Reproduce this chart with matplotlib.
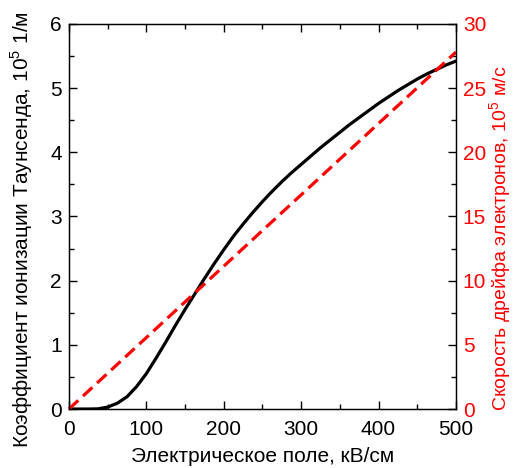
import matplotlib.pyplot as plt
from matplotlib.ticker import MultipleLocator

plt.rcParams['font.family'] = ['Liberation Sans', 'DejaVu Sans']
plt.rcParams['mathtext.fontset'] = 'custom'
plt.rcParams['mathtext.rm'] = 'Liberation Sans'
plt.rcParams['font.size'] = 15

# electric field, kV/cm
field = [0, 12.5, 25, 37.5, 50, 62.5, 75, 87.5, 100, 112.5, 125, 137.5, 150, 162.5, 175, 187.5,
         200, 212.5, 225, 237.5, 250, 262.5, 275, 287.5, 300, 312.5, 325, 337.5, 350, 362.5,
         375, 387.5, 400, 412.5, 425, 437.5, 450, 462.5, 475, 487.5, 500]
# Townsend ionization coefficient, 10^5 1/m
alpha = [0, 0, 0, 0.003, 0.03, 0.09, 0.19, 0.35, 0.55, 0.79, 1.04, 1.3, 1.55, 1.79, 2.03, 2.26,
         2.48, 2.69, 2.88, 3.06, 3.23, 3.39, 3.54, 3.68, 3.81, 3.94, 4.07, 4.19, 4.31, 4.43,
         4.54, 4.65, 4.76, 4.86, 4.96, 5.05, 5.14, 5.22, 5.29, 5.36, 5.42]
# electron drift velocity, 10^5 m/s
drift_field = [0, 500]
drift_vel = [0, 27.8]

fig = plt.figure(figsize=(5.14, 4.68), dpi=100)
ax = fig.add_axes([0.134, 0.126, 0.753, 0.823])
ax2 = ax.twinx()

ax.plot(field, alpha, color='black', lw=2.3, zorder=3)
ax2.plot(drift_field, drift_vel, color='red', lw=2.3, dashes=(4, 2), clip_on=False)

ax.set_xlim(0, 500)
ax.set_ylim(0, 6)
ax2.set_ylim(0, 30)

ax.xaxis.set_major_locator(MultipleLocator(100))
ax.xaxis.set_minor_locator(MultipleLocator(50))
ax.yaxis.set_major_locator(MultipleLocator(1))
ax.yaxis.set_minor_locator(MultipleLocator(0.5))
ax2.yaxis.set_major_locator(MultipleLocator(5))
ax2.yaxis.set_minor_locator(MultipleLocator(2.5))

ax.tick_params(which='both', direction='in', top=True, right=False, width=1)
ax.tick_params(which='major', length=6, pad=5)
ax.tick_params(axis='x', which='major', pad=8)
ax.tick_params(which='minor', length=3.5)
ax2.tick_params(which='both', direction='in', width=1, labelcolor='red')
ax2.tick_params(which='major', length=6, pad=5)
ax2.tick_params(which='minor', length=3.5)

for s in ax2.spines.values():
    s.set_linewidth(1)

ax.set_xlabel('Электрическое поле, кВ/см', labelpad=6)
ax.set_ylabel('Коэффициент ионизации Таунсенда, 10$^5$ 1/м')
ax.yaxis.set_label_coords(-0.088, 0.465)
# right axis label placed in figure coords
fig.text(0.975, 0.4915, 'Скорость дрейфа электронов, 10$^5$ м/с', color='red', fontsize=14,
         rotation=90, ha='center', va='center')

fig.savefig('out.png', dpi=100)
